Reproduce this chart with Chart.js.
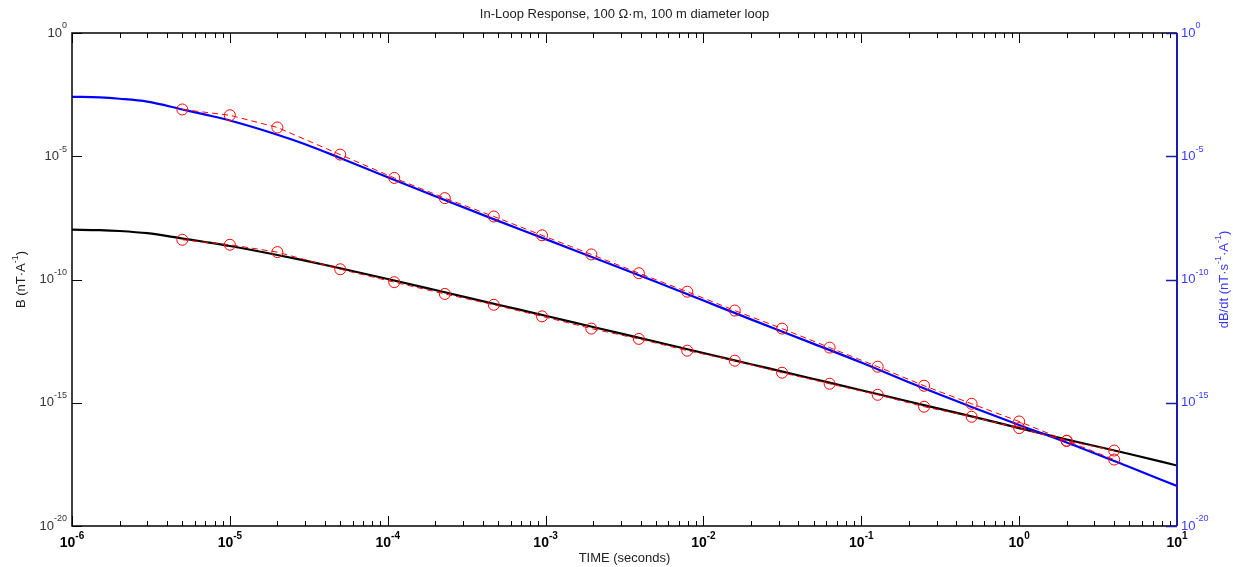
<!DOCTYPE html>
<html>
<head>
<meta charset="utf-8">
<script src="https://cdn.jsdelivr.net/npm/chart.js@4.4.1/dist/chart.umd.min.js"></script>
<style>
  html, body { margin: 0; padding: 0; background: #fff; }
</style>
</head>
<body>
<canvas id="chart" width="1233" height="567"></canvas>
<script>
// model curves
const curveTime = [1e-6, 1.5e-6, 2e-6, 3e-6, 5e-6, 7e-6, 1e-5, 2e-5, 3e-5, 5e-5,
  1e-4, 2e-4, 5e-4, 1e-3, 2e-3, 5e-3, 1e-2, 2e-2, 5e-2, 0.1, 0.2, 0.5, 1, 2, 5, 10];
const bCurve = [1.05e-8, 1.01e-8, 9.3e-9, 7.55e-9, 4.6e-9, 3.32e-9, 2.29e-9, 9.9e-10, 5.8e-10, 2.85e-10,
  1.05e-10, 3.75e-11, 9.5e-12, 3.37e-12, 1.18e-12, 2.97e-13, 1.04e-13, 3.66e-14, 9.2e-15, 3.23e-15,
  1.12e-15, 2.79e-16, 9.4e-17, 3.24e-17, 8.3e-18, 2.84e-18];
const dbdtCurve = [2.58e-3, 2.43e-3, 2.15e-3, 1.64e-3, 7.9e-4, 4.86e-4, 2.82e-4, 7.5e-5, 3.08e-5, 8.5e-6,
  1.4e-6, 2.37e-7, 2.39e-8, 4.35e-9, 7.83e-10, 8.15e-11, 1.4e-11, 2.41e-12, 2.45e-13, 4.27e-14,
  6.76e-15, 6.76e-16, 1.26e-16, 2.45e-17, 2.46e-18, 4.2e-19];

// measured gates (red circles)
const gateTime = [5e-6, 1e-5, 2e-5, 5e-5, 1.1e-4, 2.3e-4, 4.7e-4, 9.5e-4, 1.95e-3, 3.9e-3,
  7.9e-3, 1.58e-2, 3.15e-2, 6.3e-2, 0.127, 0.25, 0.5, 1, 2, 4];
const bData = [4.1e-9, 2.57e-9, 1.29e-9, 2.6e-10, 7.8e-11, 2.6e-11, 9.4e-12, 3.2e-12, 1.02e-12, 3.9e-13,
  1.3e-13, 5.1e-14, 1.66e-14, 5.9e-15, 2.1e-15, 6.9e-16, 2.7e-16, 9.4e-17, 2.85e-17, 1.15e-17];
const dbdtData = [7.9e-4, 4.6e-4, 1.47e-4, 1.17e-5, 1.32e-6, 2.0e-7, 3.6e-8, 6.2e-9, 1.04e-9, 1.8e-10,
  3.2e-11, 5.5e-12, 1.02e-12, 1.73e-13, 2.9e-14, 4.9e-15, 9.1e-16, 1.74e-16, 2.85e-17, 4.95e-18];

// tick labels (exponents of ten)
const xTickExp = [-6, -5, -4, -3, -2, -1, 0, 1];
const yTickExp = [0, -5, -10, -15, -20];

const titleText = 'In-Loop Response, 100 \u03A9\u00B7m, 100 m diameter loop';
const xTitle = 'TIME (seconds)';
const leftTitle = [['B (nT\u00B7A'], ['-1', true], [')']];
const rightTitle = [['dB/dt (nT\u00B7s'], ['-1', true], ['\u00B7A'], ['-1', true], [')']];

const FONT = '"Liberation Sans", Arial, sans-serif';
const BLUE_AXIS = '#1c1caa';
const BLUE_TEXT = '#3a3aff';

const pts = (xs, ys) => xs.map((t, i) => ({ x: t, y: ys[i] }));

function powLabel(ctx, exp, x, y, align, baseFont, supFont, raise) {
  ctx.font = baseFont;
  const wb = ctx.measureText('10').width;
  ctx.font = supFont;
  const we = ctx.measureText(String(exp)).width;
  const total = wb + we;
  let start = x;
  if (align === 'right') start = x - total;
  else if (align === 'center') start = x - total / 2;
  ctx.textAlign = 'left';
  ctx.textBaseline = 'middle';
  ctx.font = baseFont;
  ctx.fillText('10', start, y);
  ctx.font = supFont;
  ctx.fillText(String(exp), start + wb, y - raise);
}

// text runs with superscripts, centred on (0,0) of current transform
function drawRuns(ctx, runs, size) {
  const base = size + 'px ' + FONT;
  const sup = Math.round(size * 0.7) + 'px ' + FONT;
  let total = 0;
  runs.forEach(r => { ctx.font = r[1] ? sup : base; total += ctx.measureText(r[0]).width; });
  let x = -total / 2;
  ctx.textAlign = 'left';
  ctx.textBaseline = 'middle';
  runs.forEach(r => {
    ctx.font = r[1] ? sup : base;
    ctx.fillText(r[0], x, r[1] ? -5 : 0);
    x += ctx.measureText(r[0]).width;
  });
}

const matlabAxes = {
  id: 'matlabAxes',
  afterDatasetsDraw(chart) {
    const { ctx, chartArea: a, scales } = chart;
    const sx = scales.x, sy = scales.y, sy2 = scales.y2;
    ctx.save();

    // frame
    ctx.strokeStyle = '#000';
    ctx.lineWidth = 1.5;
    ctx.beginPath();
    ctx.moveTo(a.right, a.top); ctx.lineTo(a.left, a.top);
    ctx.lineTo(a.left, a.bottom); ctx.lineTo(a.right, a.bottom);
    ctx.stroke();

    // x ticks, inward on bottom and top
    ctx.lineWidth = 1;
    ctx.beginPath();
    for (let d = -6; d <= 0; d++) {
      for (let m = 1; m <= 9; m++) {
        const px = Math.round(sx.getPixelForValue(m * Math.pow(10, d))) + 0.5;
        const len = m === 1 ? 10 : 5;
        ctx.moveTo(px, a.bottom); ctx.lineTo(px, a.bottom - len);
        ctx.moveTo(px, a.top); ctx.lineTo(px, a.top + len);
      }
    }
    ctx.stroke();

    // left y ticks
    ctx.beginPath();
    yTickExp.forEach(e => {
      const py = Math.round(sy.getPixelForValue(Math.pow(10, e))) + 0.5;
      ctx.moveTo(a.left, py); ctx.lineTo(a.left + 10, py);
    });
    ctx.stroke();

    // right axis in blue
    ctx.strokeStyle = BLUE_AXIS;
    ctx.lineWidth = 2;
    ctx.beginPath();
    ctx.moveTo(a.right, a.top); ctx.lineTo(a.right, a.bottom);
    ctx.stroke();
    ctx.lineWidth = 1.5;
    ctx.beginPath();
    yTickExp.forEach(e => {
      const py = Math.round(sy2.getPixelForValue(Math.pow(10, e))) + 0.5;
      ctx.moveTo(a.right, py); ctx.lineTo(a.right - 11, py);
    });
    ctx.stroke();

    // tick labels
    ctx.fillStyle = '#000';
    xTickExp.forEach(e => {
      const px = sx.getPixelForValue(Math.pow(10, e));
      powLabel(ctx, e, px, a.bottom + 17, 'center',
        'bold 14px "Liberation Sans Narrow", ' + FONT, 'bold 10px "Liberation Sans Narrow", ' + FONT, 7);
    });
    ctx.fillStyle = '#333';
    yTickExp.forEach(e => {
      const py = sy.getPixelForValue(Math.pow(10, e));
      powLabel(ctx, e, a.left - 5, py, 'right', '13px ' + FONT, '9px ' + FONT, 7);
    });
    ctx.fillStyle = BLUE_TEXT;
    yTickExp.forEach(e => {
      const py = sy2.getPixelForValue(Math.pow(10, e));
      powLabel(ctx, e, a.right + 4, py, 'left', '13px ' + FONT, '9px ' + FONT, 7);
    });

    // titles
    ctx.fillStyle = '#222';
    ctx.font = '13px ' + FONT;
    ctx.textAlign = 'center';
    ctx.textBaseline = 'middle';
    ctx.fillText(titleText, (a.left + a.right) / 2, 14);
    ctx.fillText(xTitle, (a.left + a.right) / 2, 558);

    const midY = (a.top + a.bottom) / 2;
    ctx.save();
    ctx.translate(21, midY);
    ctx.rotate(-Math.PI / 2);
    drawRuns(ctx, leftTitle, 13);
    ctx.restore();

    ctx.fillStyle = BLUE_TEXT;
    ctx.save();
    ctx.translate(1224, midY);
    ctx.rotate(-Math.PI / 2);
    drawRuns(ctx, rightTitle, 13);
    ctx.restore();

    ctx.restore();
  }
};

const hidden = {
  grid: { display: false },
  border: { display: false },
  ticks: { display: false },
};

const gateStyle = {
  borderColor: '#ff0000',
  borderWidth: 1,
  borderDash: [6, 4],
  pointStyle: 'circle',
  pointRadius: 5.5,
  pointBorderColor: '#ff0000',
  pointBackgroundColor: 'rgba(0,0,0,0)',
  pointBorderWidth: 1,
  tension: 0,
};

new Chart(document.getElementById('chart'), {
  type: 'line',
  data: {
    datasets: [
      { label: 'dB/dt data', data: pts(gateTime, dbdtData), yAxisID: 'y2', ...gateStyle },
      { label: 'B data', data: pts(gateTime, bData), yAxisID: 'y', ...gateStyle },
      {
        label: 'dB/dt',
        data: pts(curveTime, dbdtCurve),
        yAxisID: 'y2',
        borderColor: '#0000ff',
        borderWidth: 2.2,
        pointRadius: 0,
        cubicInterpolationMode: 'monotone',
      },
      {
        label: 'B',
        data: pts(curveTime, bCurve),
        yAxisID: 'y',
        borderColor: '#000000',
        borderWidth: 2.2,
        pointRadius: 0,
        cubicInterpolationMode: 'monotone',
      },
    ],
  },
  options: {
    responsive: false,
    animation: false,
    devicePixelRatio: 1,
    events: [],
    layout: { padding: { top: 33, left: 0, right: 0, bottom: 0 } },
    plugins: {
      legend: { display: false },
      title: { display: false },
      tooltip: { enabled: false },
    },
    scales: {
      x: {
        type: 'logarithmic', position: 'bottom', min: 1e-6, max: 10, ...hidden,
        afterFit: (s) => { s.height = 41; },
      },
      y: {
        type: 'logarithmic', position: 'left', min: 1e-20, max: 1, ...hidden,
        afterFit: (s) => { s.width = 72; },
      },
      y2: {
        type: 'logarithmic', position: 'right', min: 1e-20, max: 1, ...hidden,
        afterFit: (s) => { s.width = 56; },
      },
    },
  },
  plugins: [matlabAxes],
});
</script>
</body>
</html>
